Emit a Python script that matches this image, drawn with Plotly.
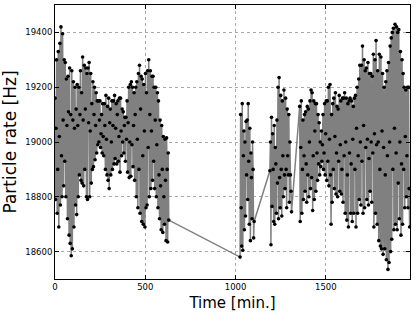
import plotly.graph_objects as go

# Sampling interval (minutes) and segment start times
step = 3
seg_starts = [0, 1025, 1190, 1355]

seg1_values = [
    19160, 18790, 19050, 19300, 18740, 18900, 19330, 18690, 19020, 19360,
    18770, 19420, 18950, 18800, 19395, 19080, 18840, 19300, 18930, 19290,
    18800, 19230, 19060, 18720, 19240, 19110, 18660, 19270, 18630, 19100,
    18585, 19260, 18610, 19080, 19220, 18690, 19050, 19200, 18770, 19120,
    18735, 19210, 19060, 18800, 19200, 18880, 19100, 19260, 18860, 19180,
    18850, 19310, 19080, 18840, 19280, 18900, 19120, 19270, 18800, 19250,
    18790, 19270, 19070, 19290, 18800, 19040, 19250, 18850, 19140, 18900,
    19220, 18910, 19100, 19200, 18935, 19060, 19180, 18960, 19150, 18990,
    19150, 19000, 19080, 19150, 18980, 19030, 19100, 18960, 19140, 19020,
    18950, 19140, 19060, 18900, 19170, 19010, 18880, 19130, 18860, 19160,
    18830, 19070, 19120, 18880, 19000, 19150, 18900, 19060, 19150, 18920,
    19170, 18940, 19050, 19140, 18920, 19100, 19150, 18930, 19020, 19160,
    18890, 19160, 19040, 18950, 19120, 19000, 19110, 18960, 19060, 19090,
    18930, 19090, 19010, 19150, 18890, 19070, 19200, 18870, 19000, 19210,
    18875, 19220, 18990, 19200, 18910, 19060, 19180, 18860, 19100, 19200,
    18800, 19220, 19010, 18760, 19250, 18900, 19280, 18740, 19120, 19240,
    18710, 19230, 18950, 18700, 19210, 19040, 18690, 19250, 18760, 19180,
    18770, 19260, 18980, 19300, 18800, 19100, 19260, 18830, 19040, 19240,
    18860, 19240, 18930, 19200, 18830, 19080, 19200, 18800, 18990, 19180,
    18760, 19150, 18880, 18720, 19080, 18840, 18680, 19060, 18900, 18670,
    19020, 18800, 18700, 19010, 18860, 18640, 19015, 18900, 18635, 18960,
    18715,
]
seg2_values = [
    18580, 19100, 18760, 18620, 19140, 18605, 18950, 19040, 18680, 19000,
    18730, 19075, 18880, 19080, 18790, 19140, 18930, 18700, 19050, 18640,
    18960, 18870, 18720, 19000, 18900, 18650, 18710,
]
seg3_values = [
    18895, 19000, 18625, 19090, 18765, 19030, 18900, 18710, 19060, 18700,
    18980, 18920, 18740, 19080, 18850, 19200, 18720, 19235, 18870, 18760,
    19170, 18900, 18730, 19150, 18950, 18800, 19190, 18880, 18830, 19160,
    18900, 18760, 19120, 18950, 18880, 19100, 18780, 19000, 18880, 18820,
    18745,
]
seg4_values = [
    19130, 18710, 18980, 19150, 18740, 18900, 19080, 18790, 18950, 19100,
    18820, 19110, 18920, 18780, 19130, 18880, 19120, 18800, 19000, 19150,
    18830, 19190, 18870, 19180, 18750, 18950, 19150, 18790, 19040, 19140,
    18820, 19140, 18960, 18860, 19100, 18920, 19070, 18880, 19000, 18910,
    19040, 18930, 18990, 19100, 18900, 18960, 19140, 18880, 19030, 19150,
    18860, 19150, 18930, 19200, 18840, 19010, 19210, 18880, 18700, 19100,
    18780, 19140, 18900, 19160, 18830, 19020, 19180, 18810, 18960, 19130,
    18800, 19120, 18930, 19170, 18820, 18990, 19150, 18810, 18900, 19160,
    18780, 19160, 18950, 19180, 18740, 19000, 19160, 18715, 18880, 19140,
    18690, 19150, 18960, 19160, 18740, 18920, 19150, 18710, 19010, 19130,
    18740, 19160, 18900, 19170, 18690, 19050, 19200, 18740, 18950, 19230,
    18790, 19280, 19000, 18770, 19280, 18930, 19350, 18740, 19060, 19300,
    18760, 19260, 18980, 19270, 18790, 19010, 19290, 18770, 18940, 19250,
    18820, 19250, 19000, 18780, 19240, 18960, 19320, 18690, 19030, 19300,
    18740, 19370, 18990, 18700, 19260, 19000, 18640, 19320, 18900, 18620,
    19310, 18610, 19040, 19250, 18590, 18980, 19200, 18610, 18880, 19220,
    18570, 19260, 18950, 18535, 19290, 18560, 19000, 19350, 18600, 19380,
    18645, 19400, 18900, 19415, 18680, 19050, 19430, 18700, 18960, 19420,
    18680, 19400, 18850, 19410, 18720, 19000, 19330, 18660, 18920, 19300,
    18700, 19250, 18900, 19200, 18760, 19020, 19190, 18800, 18950, 19200,
    18760, 19200, 18830, 18690,
]

x_ticks = [0, 500, 1000, 1500]
y_ticks = [18600, 18800, 19000, 19200, 19400]
x_label = "Time [min.]"
y_label = "Particle rate [Hz]"

times, rates = [], []
for start, vals in zip(seg_starts, [seg1_values, seg2_values, seg3_values, seg4_values]):
    for i, v in enumerate(vals):
        times.append(start + step * i)
        rates.append(v)

fig = go.Figure()
fig.add_trace(go.Scatter(
    x=times, y=rates, mode="lines+markers",
    line=dict(color="#808080", width=1.5, simplify=False),
    marker=dict(color="black", size=3.6, line=dict(width=0)),
    showlegend=False,
))

axis_common = dict(
    showline=True, linecolor="black", linewidth=1, mirror="ticks",
    ticks="inside", ticklen=4, tickcolor="black",
    showgrid=True, gridcolor="#a8a8a8", griddash="dot", gridwidth=1,
    zeroline=False,
    tickfont=dict(family="DejaVu Sans", size=8.5, color="black"),
)

fig.update_layout(
    width=416, height=316,
    margin=dict(l=55, r=6, t=5, b=37),
    paper_bgcolor="white", plot_bgcolor="white",
    xaxis=dict(range=[0, 1966], tickvals=x_ticks, ticktext=[str(v) for v in x_ticks],
               title=dict(text=x_label, font=dict(family="DejaVu Sans", size=15, color="black"), standoff=6),
               **axis_common),
    yaxis=dict(range=[18500, 19500], tickvals=y_ticks, ticktext=[str(v) for v in y_ticks],
               title=dict(text=y_label, font=dict(family="DejaVu Sans", size=17, color="black"), standoff=6),
               **axis_common),
)

fig.write_html("out.html", config={"displayModeBar": False},
               post_script="document.body.style.margin='0px';")
